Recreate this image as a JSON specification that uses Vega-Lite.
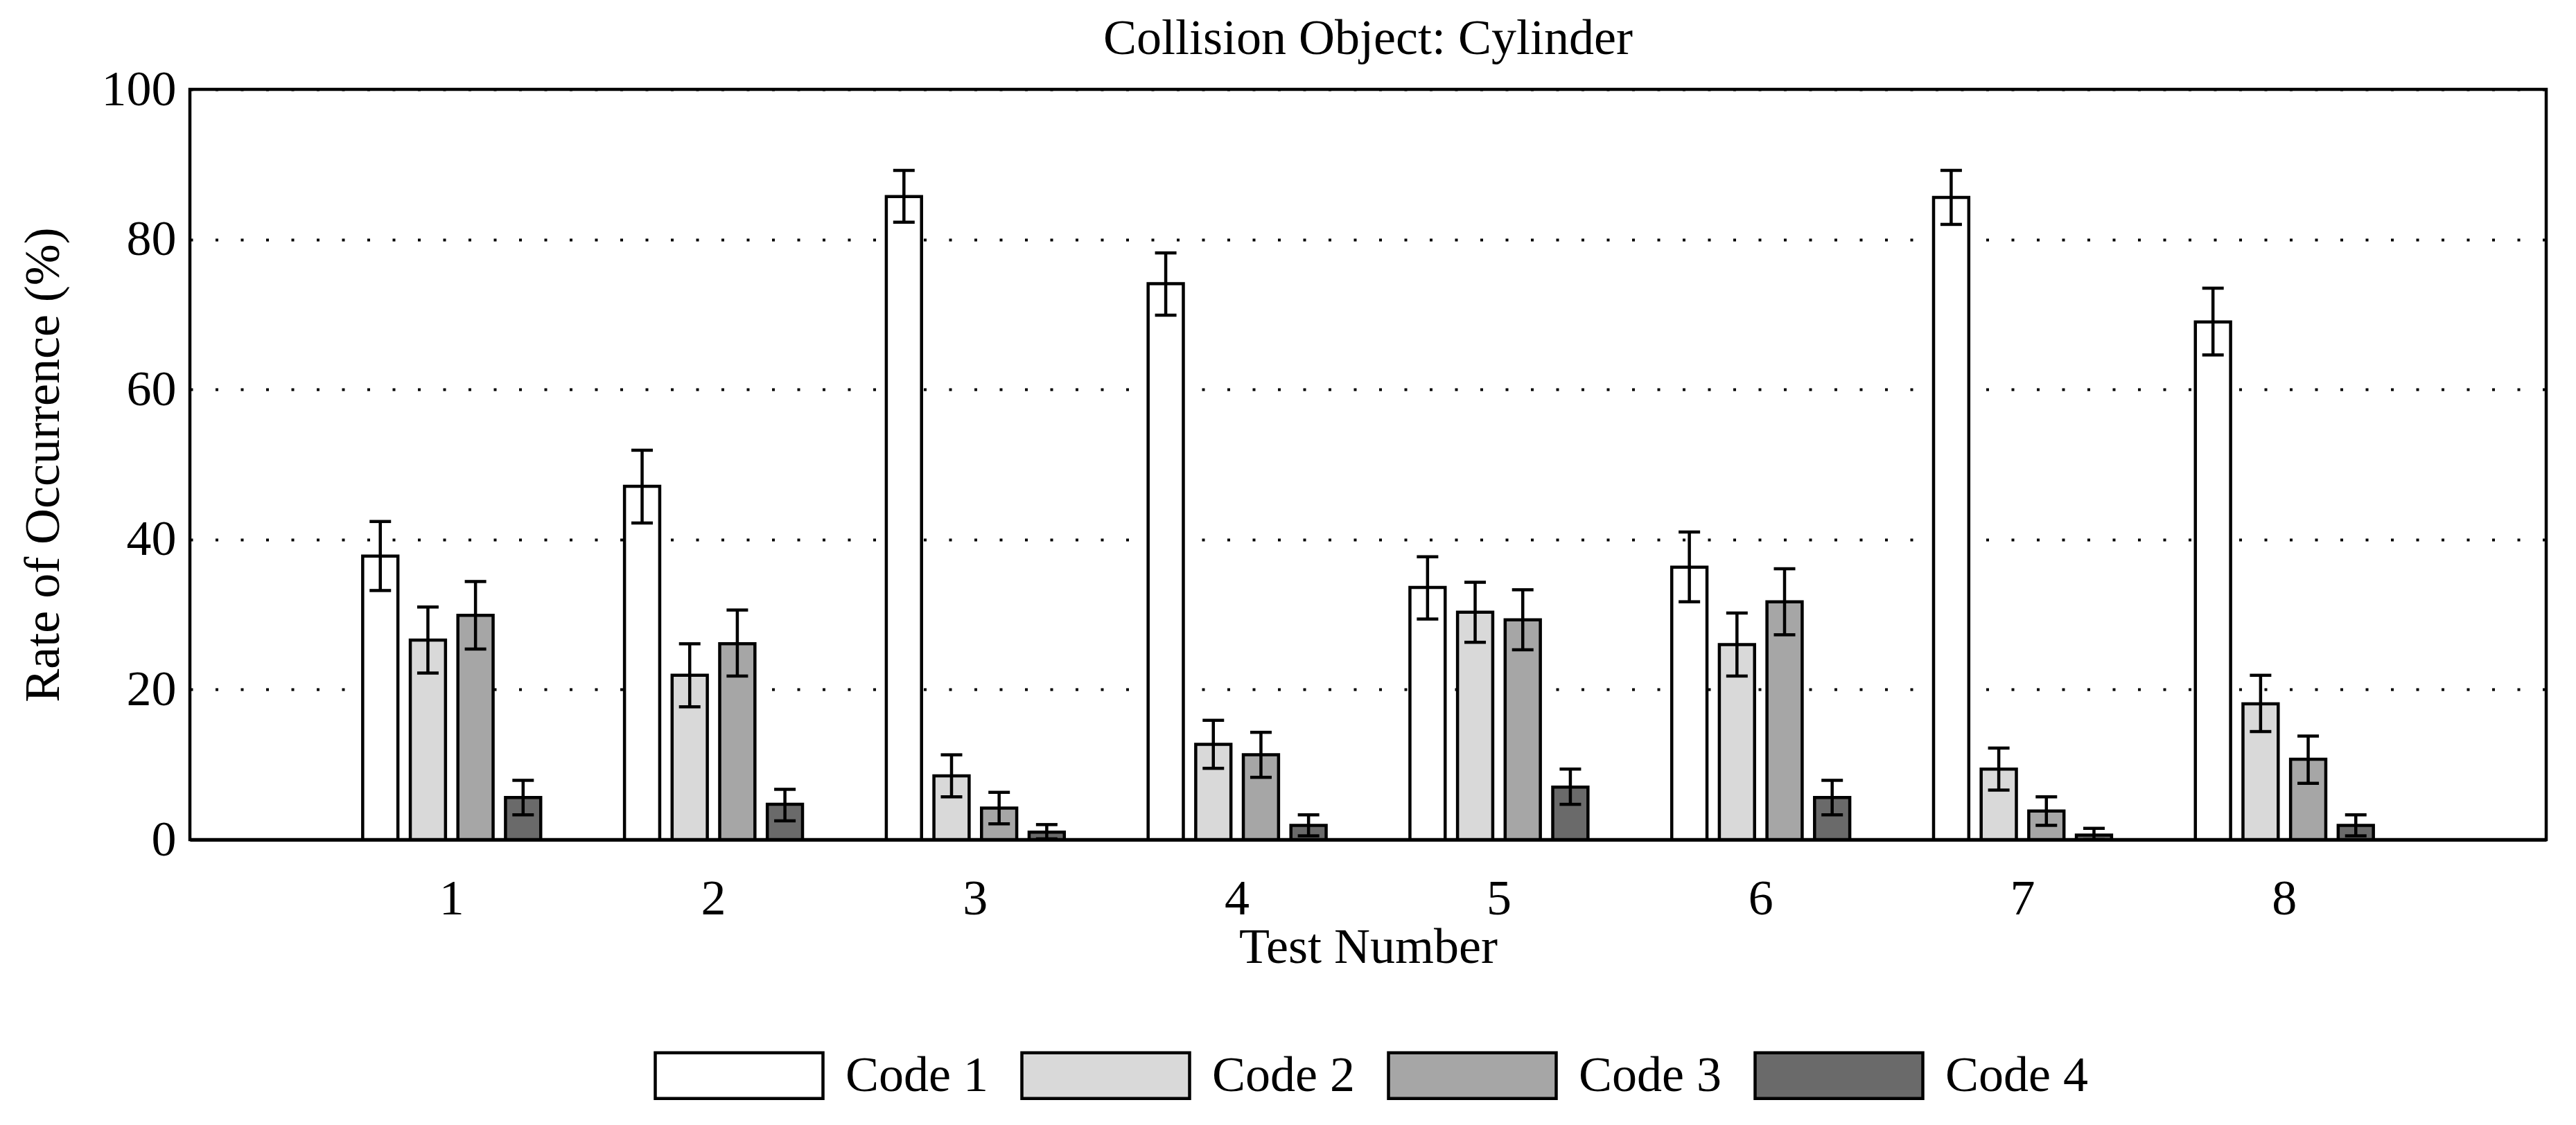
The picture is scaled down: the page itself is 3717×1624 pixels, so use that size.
{
  "$schema": "https://vega.github.io/schema/vega-lite/v6.json",
  "autosize": {"type": "none"},
  "width": 3400,
  "height": 1083,
  "padding": {"left": 274, "top": 129, "right": 43, "bottom": 412},
  "background": "white",
  "title": {"text": "Collision Object: Cylinder", "font": "Liberation Serif", "fontSize": 72, "fontWeight": "normal", "color": "black", "offset": 0},
  "config": {
    "font": "Liberation Serif",
    "view": {"stroke": "black", "strokeWidth": 4.5},
    "axis": {"labelFont": "Liberation Serif", "titleFont": "Liberation Serif", "labelColor": "black", "titleColor": "black", "titleFontWeight": "normal", "labelFontSize": 72, "titleFontSize": 72}
  },
  "data": {
    "values": [
      {"test": "1", "code": "Code 1", "value": 37.8, "lo": 33.2, "hi": 42.4},
      {"test": "1", "code": "Code 2", "value": 26.6, "lo": 22.2, "hi": 31.0},
      {"test": "1", "code": "Code 3", "value": 29.9, "lo": 25.4, "hi": 34.4},
      {"test": "1", "code": "Code 4", "value": 5.6, "lo": 3.3, "hi": 7.9},
      {"test": "2", "code": "Code 1", "value": 47.1, "lo": 42.2, "hi": 51.9},
      {"test": "2", "code": "Code 2", "value": 21.9, "lo": 17.7, "hi": 26.1},
      {"test": "2", "code": "Code 3", "value": 26.1, "lo": 21.8, "hi": 30.6},
      {"test": "2", "code": "Code 4", "value": 4.7, "lo": 2.5, "hi": 6.7},
      {"test": "3", "code": "Code 1", "value": 85.7, "lo": 82.3, "hi": 89.2},
      {"test": "3", "code": "Code 2", "value": 8.5, "lo": 5.7, "hi": 11.3},
      {"test": "3", "code": "Code 3", "value": 4.2, "lo": 2.1, "hi": 6.3},
      {"test": "3", "code": "Code 4", "value": 1.0, "lo": 0.1, "hi": 2.0},
      {"test": "4", "code": "Code 1", "value": 74.1, "lo": 69.9, "hi": 78.2},
      {"test": "4", "code": "Code 2", "value": 12.7, "lo": 9.5, "hi": 15.9},
      {"test": "4", "code": "Code 3", "value": 11.3, "lo": 8.3, "hi": 14.3},
      {"test": "4", "code": "Code 4", "value": 1.9, "lo": 0.5, "hi": 3.3},
      {"test": "5", "code": "Code 1", "value": 33.6, "lo": 29.4, "hi": 37.7},
      {"test": "5", "code": "Code 2", "value": 30.3, "lo": 26.3, "hi": 34.3},
      {"test": "5", "code": "Code 3", "value": 29.3, "lo": 25.3, "hi": 33.3},
      {"test": "5", "code": "Code 4", "value": 7.0, "lo": 4.7, "hi": 9.4},
      {"test": "6", "code": "Code 1", "value": 36.3, "lo": 31.7, "hi": 41.0},
      {"test": "6", "code": "Code 2", "value": 26.0, "lo": 21.8, "hi": 30.2},
      {"test": "6", "code": "Code 3", "value": 31.7, "lo": 27.3, "hi": 36.1},
      {"test": "6", "code": "Code 4", "value": 5.6, "lo": 3.3, "hi": 7.9},
      {"test": "7", "code": "Code 1", "value": 85.6, "lo": 82.0, "hi": 89.2},
      {"test": "7", "code": "Code 2", "value": 9.4, "lo": 6.6, "hi": 12.2},
      {"test": "7", "code": "Code 3", "value": 3.8, "lo": 1.9, "hi": 5.7},
      {"test": "7", "code": "Code 4", "value": 0.6, "lo": 0.0, "hi": 1.5},
      {"test": "8", "code": "Code 1", "value": 69.0, "lo": 64.6, "hi": 73.5},
      {"test": "8", "code": "Code 2", "value": 18.1, "lo": 14.4, "hi": 21.9},
      {"test": "8", "code": "Code 3", "value": 10.7, "lo": 7.5, "hi": 13.8},
      {"test": "8", "code": "Code 4", "value": 1.9, "lo": 0.5, "hi": 3.3}
    ]
  },
  "encoding": {
    "x": {
      "field": "test", "type": "ordinal",
      "scale": {"paddingInner": 0.32, "paddingOuter": 0.66},
      "axis": {"title": "Test Number", "labelAngle": 0, "labelPadding": 50, "titlePadding": -1, "ticks": false, "grid": false, "domain": true, "domainColor": "black", "domainWidth": 5}
    },
    "xOffset": {"field": "code", "type": "nominal", "scale": {"paddingInner": 0.26, "paddingOuter": 0}}
  },
  "layer": [
    {
      "mark": {"type": "bar", "stroke": "black", "strokeWidth": 4.5, "opacity": 1},
      "encoding": {
        "y": {
          "field": "value", "type": "quantitative", "title": "Rate of Occurrence (%)",
          "scale": {"domain": [0, 100], "nice": false},
          "axis": {"values": [0, 20, 40, 60, 80, 100], "labelPadding": 20, "titlePadding": 47, "ticks": false, "domain": false, "grid": true, "gridColor": "black", "gridWidth": 4, "gridOpacity": 1, "gridDash": [4, 32.5]}
        },
        "fill": {
          "field": "code", "type": "nominal",
          "scale": {"domain": ["Code 1", "Code 2", "Code 3", "Code 4"], "range": ["#FFFFFF", "#D9D9D9", "#A6A6A6", "#6A6A6A"]},
          "legend": {
            "title": null, "orient": "none", "legendX": 669, "legendY": 1300, "direction": "horizontal", "columns": 4,
            "symbolType": "M-1,-0.273L1,-0.273L1,0.273L-1,0.273Z", "symbolSize": 58564,
            "symbolStrokeColor": "black", "symbolStrokeWidth": 4.5, "symbolOpacity": 1,
            "labelFont": "Liberation Serif", "labelFontSize": 72, "labelColor": "black", "labelOffset": 30, "columnPadding": 39, "labelLimit": 400
          }
        }
      }
    },
    {
      "mark": {"type": "rule", "strokeWidth": 4.5, "color": "black"},
      "encoding": {
        "y": {"field": "lo", "type": "quantitative", "title": "Rate of Occurrence (%)"},
        "y2": {"field": "hi"}
      }
    },
    {
      "mark": {"type": "tick", "size": 31, "thickness": 4.5, "color": "black", "opacity": 1},
      "encoding": {"y": {"field": "lo", "type": "quantitative", "title": "Rate of Occurrence (%)"}}
    },
    {
      "mark": {"type": "tick", "size": 31, "thickness": 4.5, "color": "black", "opacity": 1},
      "encoding": {"y": {"field": "hi", "type": "quantitative", "title": "Rate of Occurrence (%)"}}
    }
  ]
}
